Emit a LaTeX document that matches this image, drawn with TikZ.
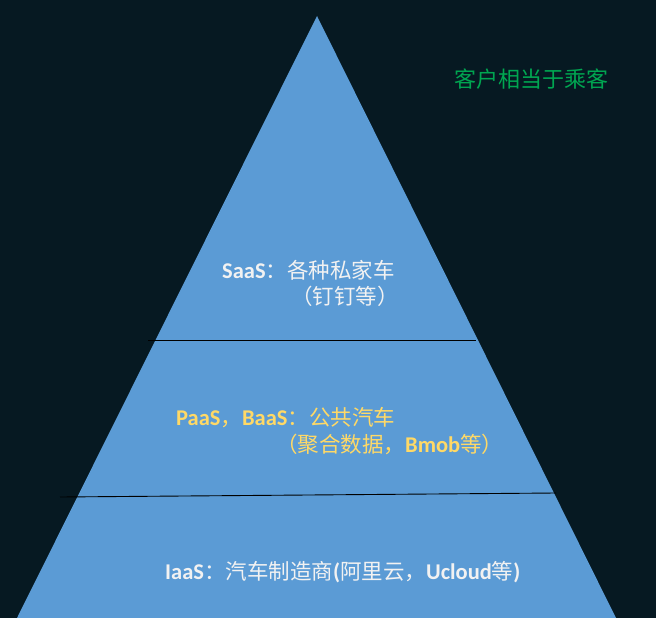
\documentclass[tikz,border=0pt]{standalone}
\usepackage{fontspec}
\setmainfont{Carlito}
\newfontfamily\cjk{Noto Sans CJK SC}
\newcommand\cjkt[1]{{\cjk\fontsize{21.5}{25}\selectfont #1}}
\definecolor{bgc}{HTML}{061922}
\definecolor{tri}{HTML}{5B9BD5}
\definecolor{wtxt}{HTML}{F2F2F2}
\definecolor{ytxt}{HTML}{FFD966}
\definecolor{gtxt}{HTML}{00A651}
\begin{document}
\begin{tikzpicture}[x=1pt,y=-1pt,
  lbl/.style={anchor=base west,inner sep=0pt,font=\fontsize{22.5}{26}\selectfont},
  sep/.style={draw=black,line width=0.9pt}]
\useasboundingbox (0,0) rectangle (656,618);
\fill[bgc] (0,0) rectangle (656,618);
\coordinate (apex) at (317,16);
\coordinate (bl) at (17,618);
\coordinate (br) at (616,618);
\fill[tri] (apex) -- (bl) -- (br) -- cycle;
\coordinate (a1) at (148,340);
\coordinate (b1) at (476,340);
\coordinate (a2) at (60,497);
\coordinate (b2) at (556,493);
\draw[sep] (a1) -- (b1);
\draw[sep] (a2) -- (b2);
\node[lbl,text=gtxt] (cust) at (454,88) {\cjk\fontsize{22}{26}\selectfont 客户相当于乘客};
\node[lbl,text=wtxt] (saas1) at (222,278) {\textbf{SaaS}\cjkt{：各种私家车}};
\node[lbl,text=wtxt] (saas2) at (291,304) {\cjkt{（钉钉等）}};
\node[lbl,text=ytxt] (paas1) at (176,425) {\textbf{PaaS}\cjkt{，}\textbf{BaaS}\cjkt{：公共汽车}};
\node[lbl,text=ytxt] (paas2) at (276,452) {\cjkt{（聚合数据，}\textbf{Bmob}\cjkt{等）}};
\node[lbl,text=wtxt] (iaas) at (165,579) {\textbf{IaaS}\cjkt{：汽车制造商}\textbf{(}\cjkt{阿里云，}\textbf{Ucloud}\cjkt{等}\textbf{)}};
\end{tikzpicture}
\end{document}
